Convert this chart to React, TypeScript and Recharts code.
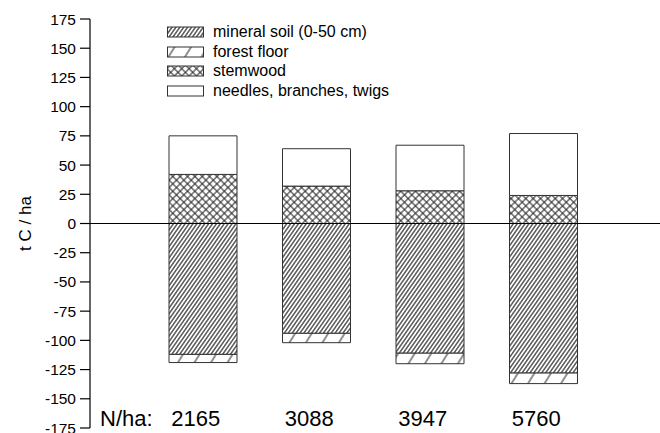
import React from 'react';
import { BarChart, Bar, XAxis, YAxis, ReferenceLine, Legend } from 'recharts';

// stand density (trees per ha)
const stands = ['2165', '3088', '3947', '5760'];
// carbon pools, t C / ha (soil pools drawn below zero)
const mineralSoil = [-112, -94, -111, -128];
const forestFloor = [-7, -8, -9, -9];
const stemwood = [42, 32, 28, 24];
const needles = [33, 32, 39, 53];
const yTicks = [175, 150, 125, 100, 75, 50, 25, 0, -25, -50, -75, -100, -125, -150, -175];

const data = stands.map((stand, i) => ({
  stand,
  mineral: mineralSoil[i],
  floor: forestFloor[i],
  stem: stemwood[i],
  needles: needles[i],
}));

const FONT = '"Liberation Sans", Arial, Helvetica, sans-serif';
const EDGE = '#333';

const legendItems = [
  { label: 'mineral soil (0-50 cm)', fill: 'url(#pMineral)' },
  { label: 'forest floor', fill: 'url(#pFloor)' },
  { label: 'stemwood', fill: 'url(#pStem)' },
  { label: 'needles, branches, twigs', fill: '#fff' },
];

const renderLegend = () => (
  <div style={{ fontFamily: FONT, fontSize: 16, color: '#000' }}>
    {legendItems.map((it) => (
      <div key={it.label} style={{ display: 'flex', alignItems: 'center', height: 19.7 }}>
        <svg width={38} height={12} style={{ marginRight: 8 }}>
          <rect x={0.5} y={1} width={36} height={10} fill={it.fill} stroke={EDGE} strokeWidth={1} />
        </svg>
        <span>{it.label}</span>
      </div>
    ))}
  </div>
);

const StandTick = (props: any) => {
  const { x, y, payload, index } = props;
  return (
    <g>
      {index === 0 && (
        <text x={100} y={y - 8} fontSize={22} fontFamily={FONT} fill="#000" textAnchor="start">
          N/ha:
        </text>
      )}
      <text x={x - 7} y={y - 8} fontSize={22} fontFamily={FONT} fill="#000" textAnchor="middle">
        {payload.value}
      </text>
    </g>
  );
};

const YLabel = (props: any) => {
  const vb = props.viewBox || {};
  const cy = (vb.y || 0) + (vb.height || 0) / 2;
  return (
    <text
      x={25}
      y={cy}
      transform={`rotate(-90, 25, ${cy})`}
      textAnchor="middle"
      dominantBaseline="central"
      fontSize={17}
      fontFamily={FONT}
      fill="#000"
    >
      t C / ha
    </text>
  );
};

export default function App() {
  return (
    <div style={{ position: 'absolute', left: 0, top: 0, width: 660, height: 433, background: '#fff' }}>
      <BarChart
        width={660}
        height={433}
        data={data}
        stackOffset="sign"
        margin={{ top: 19, right: 0, bottom: 0, left: 0 }}
      >
        <defs>
          <pattern id="pMineral" patternUnits="userSpaceOnUse" width={3.2} height={10} patternTransform="rotate(35)">
            <rect width={3.2} height={10} fill="#fff" />
            <line x1={1.6} y1={0} x2={1.6} y2={10} stroke="#1a1a1a" strokeWidth={1.1} />
          </pattern>
          <pattern id="pFloor" patternUnits="userSpaceOnUse" width={14} height={14} patternTransform="rotate(32)">
            <rect width={14} height={14} fill="#fff" />
            <line x1={7} y1={0} x2={7} y2={14} stroke="#222" strokeWidth={1} />
          </pattern>
          <pattern id="pStem" patternUnits="userSpaceOnUse" width={5.2} height={5.2} patternTransform="rotate(45)">
            <rect width={5.2} height={5.2} fill="#fff" />
            <line x1={2.6} y1={0} x2={2.6} y2={5.2} stroke="#222" strokeWidth={1} />
            <line x1={0} y1={2.6} x2={5.2} y2={2.6} stroke="#222" strokeWidth={1} />
          </pattern>
        </defs>
        <XAxis
          dataKey="stand"
          height={5}
          axisLine={false}
          tickLine={false}
          tickMargin={0}
          tick={<StandTick />}
          interval={0}
          padding={{ left: 56, right: 60 }}
        />
        <YAxis
          width={90}
          domain={[-175, 175]}
          ticks={yTicks}
          interval={0}
          tickSize={10}
          tickMargin={4}
          axisLine={{ stroke: '#000', strokeWidth: 1.2 }}
          tickLine={{ stroke: '#000', strokeWidth: 1.2 }}
          tick={{ fontSize: 15.5, fontFamily: FONT, fill: '#000' }}
          label={<YLabel />}
        />
        <Legend
          layout="vertical"
          align="center"
          verticalAlign="middle"
          content={renderLegend}
          wrapperStyle={{ position: 'absolute', left: 167, top: 22, width: 320 }}
        />
        <Bar dataKey="mineral" stackId="c" fill="url(#pMineral)" stroke={EDGE} strokeWidth={1} barSize={68} isAnimationActive={false} />
        <Bar dataKey="floor" stackId="c" fill="url(#pFloor)" stroke={EDGE} strokeWidth={1} barSize={68} isAnimationActive={false} />
        <Bar dataKey="stem" stackId="c" fill="url(#pStem)" stroke={EDGE} strokeWidth={1} barSize={68} isAnimationActive={false} />
        <Bar dataKey="needles" stackId="c" fill="#fff" stroke={EDGE} strokeWidth={1} barSize={68} isAnimationActive={false} />
        <ReferenceLine y={0} stroke="#000" strokeWidth={1.2} />
      </BarChart>
    </div>
  );
}
